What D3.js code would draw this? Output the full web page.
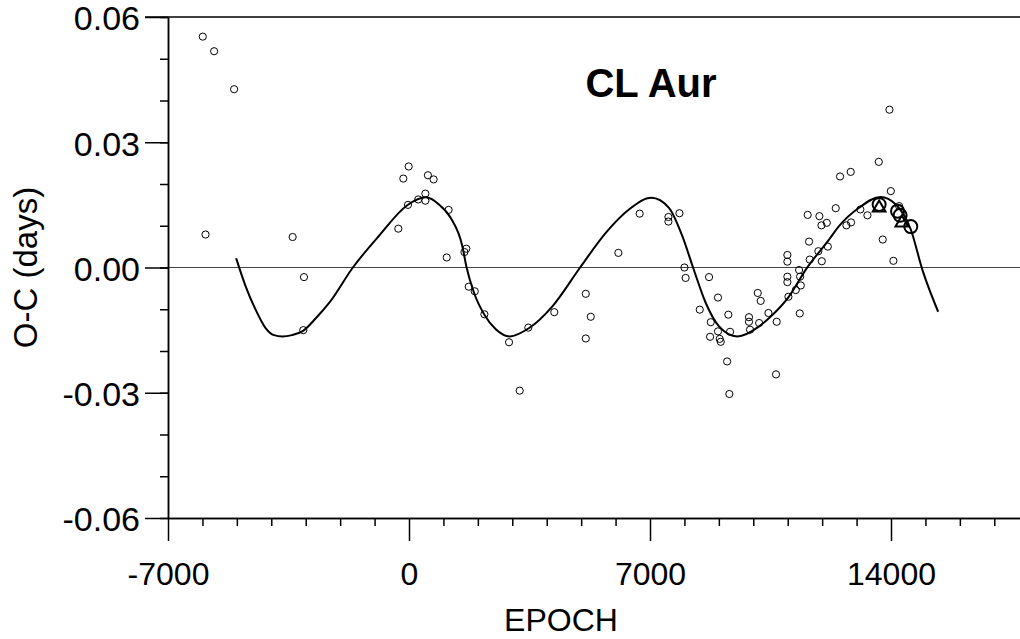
<!DOCTYPE html>
<html>
<head>
<meta charset="utf-8">
<script src="https://cdn.jsdelivr.net/npm/d3@7"></script>
<style>
body { margin: 0; background: #fff; }
text { font-family: "Liberation Sans", Arial, sans-serif; }
</style>
</head>
<body>
<svg></svg>
<script>
const SVG_WIDTH = 1020, SVG_HEIGHT = 639;

// O-C residuals (epoch, days)
const obsEpoch = [-5990,-5660,-5080,-5910,-3380,-3050,-3070,-310,-165,-10,-30,270,475,475,550,715,1095,1150,1610,1665,1735,1910,2190,2905,3215,3465,4220,5135,5280,5135,6080,6700,7535,7535,7855,8000,8035,8715,8445,8975,8765,8745,8975,9025,9055,9275,9325,9240,9305,10130,10215,9875,9875,9905,10170,10440,10680,10660,10990,10990,10990,10990,11020,11235,11330,11360,11380,11350,11580,11620,11640,11920,11980,11890,11990,12135,12165,12395,12520,12830,12705,12840,13110,13315,13645,13955,13995,13760,14070,14235];
const obsOC = [0.0553,0.0518,0.0427,0.0079,0.0073,-0.0023,-0.0150,0.0093,0.0213,0.0242,0.0150,0.0163,0.0177,0.0160,0.0221,0.0211,0.0024,0.0138,0.0037,0.0045,-0.0046,-0.0057,-0.0112,-0.0179,-0.0295,-0.0144,-0.0107,-0.0063,-0.0118,-0.0170,0.0035,0.0129,0.0121,0.0110,0.0130,0.0000,-0.0025,-0.0023,-0.0101,-0.0072,-0.0131,-0.0166,-0.0153,-0.0171,-0.0178,-0.0113,-0.0154,-0.0225,-0.0303,-0.0061,-0.0080,-0.0119,-0.0130,-0.0149,-0.0133,-0.0109,-0.0130,-0.0256,0.0030,0.0014,-0.0022,-0.0035,-0.0070,-0.0054,-0.0006,-0.0022,-0.0043,-0.0110,0.0126,0.0062,0.0019,0.0123,0.0101,0.0039,0.0015,0.0107,0.0050,0.0142,0.0218,0.0229,0.0101,0.0108,0.0139,0.0125,0.0253,0.0378,0.0183,0.0067,0.0016,0.0147];

// photoelectric minima (large circles) and triangles
const peEpoch = [13655, 14190, 14265, 14575];
const peOC = [0.0151, 0.0135, 0.0125, 0.0098];
const triEpoch = [13655, 14315];
const triOC = [0.0143, 0.0107];

// fitted curve
const fitEpoch = [-5020,-4745,-4455,-4165,-3920,-3680,-3400,-3100,-2700,-2320,-1630,-870,-50,485,870,1210,1550,1665,1890,2190,2520,2925,3490,4165,4970,5715,6390,7040,7550,7940,8250,8620,9005,9535,10170,10460,11040,11525,12200,12490,13070,13700,14140,14575,14910,15370];
const fitOC = [0.0022,-0.0045,-0.0101,-0.0145,-0.0162,-0.0165,-0.0162,-0.0153,-0.0121,-0.0085,0.0000,0.0076,0.0149,0.0168,0.0151,0.0119,0.0051,0.0003,-0.0061,-0.0113,-0.0148,-0.0165,-0.0145,-0.0093,0.0000,0.0083,0.0139,0.0167,0.0143,0.0075,0.0000,-0.0085,-0.0141,-0.0165,-0.0141,-0.0121,-0.0069,-0.0005,0.0067,0.0099,0.0143,0.0169,0.0151,0.0091,-0.0005,-0.0106];

const xMajor = [-7000, 0, 7000, 14000];
const yMajor = [0.06, 0.03, 0.00, -0.03, -0.06];

var x = d3.scaleLinear().domain([-7000, 18000]).range([168, 168 + 25000 * 241 / 7000]);
var y = d3.scaleLinear().domain([-0.06, 0.06]).range([518, 17]);

var svg = d3.select("svg").attr("width", SVG_WIDTH).attr("height", SVG_HEIGHT);

// zero line
svg.append("line")
    .attr("x1", x(-7000)).attr("x2", SVG_WIDTH)
    .attr("y1", y(0)).attr("y2", y(0))
    .attr("stroke", "#444").attr("stroke-width", 1);

// top frame
svg.append("line")
    .attr("x1", 145).attr("x2", SVG_WIDTH)
    .attr("y1", y(0.06)).attr("y2", y(0.06))
    .attr("stroke", "#000").attr("stroke-width", 1.5);

var xMinor = d3.range(-7000, 18001, 1000).filter(function(d) { return xMajor.indexOf(d) < 0 });
var yMinor = d3.range(-6, 7).map(function(d) { return d / 100 });

function styleAxis(g, size) {
    g.select(".domain").attr("stroke", "#000").attr("stroke-width", 1.5);
    g.selectAll(".tick line").attr("stroke", "#000").attr("stroke-width", 1.5);
    g.selectAll("text").attr("font-size", size || 32).attr("fill", "#000")
        .attr("font-family", "'Liberation Sans', Arial, sans-serif");
}

svg.append("g").attr("transform", "translate(0," + y(-0.06) + ")")
    .call(d3.axisBottom(x).tickValues(xMinor).tickSize(8).tickFormat("").tickSizeOuter(0))
    .call(styleAxis);
svg.append("g").attr("transform", "translate(0," + y(-0.06) + ")")
    .call(d3.axisBottom(x).tickValues(xMajor).tickSize(23).tickPadding(21).tickSizeOuter(0)
        .tickFormat(function(d) { return String(d) }))
    .call(styleAxis, 32);

svg.append("g").attr("transform", "translate(" + x(-7000) + ",0)")
    .call(d3.axisLeft(y).tickValues(yMinor).tickSize(8).tickFormat("").tickSizeOuter(0))
    .call(styleAxis);
svg.append("g").attr("transform", "translate(" + x(-7000) + ",0)")
    .call(d3.axisLeft(y).tickValues(yMajor).tickSize(23).tickPadding(5).tickSizeOuter(0)
        .tickFormat(function(d) { return d.toFixed(2) }))
    .call(styleAxis, 34)
    .selectAll("text").attr("dy", "0.38em");

// axis titles
svg.append("text")
    .attr("x", 561).attr("y", 631)
    .attr("text-anchor", "middle").attr("font-size", 32)
    .text("EPOCH");
svg.append("text")
    .attr("transform", "translate(37," + y(0) + ") rotate(-90)")
    .attr("text-anchor", "middle").attr("font-size", 33)
    .text("O-C (days)");
svg.append("text")
    .attr("x", 651).attr("y", 97)
    .attr("text-anchor", "middle").attr("font-size", 40).attr("font-weight", "bold")
    .text("CL Aur");

// fit
var fit = d3.range(fitEpoch.length).map(function(i) { return [fitEpoch[i], fitOC[i]] });
svg.append("path")
    .datum(fit)
    .attr("fill", "none").attr("stroke", "#000").attr("stroke-width", 2)
    .attr("d", d3.line().x(function(d) { return x(d[0]) }).y(function(d) { return y(d[1]) })
        .curve(d3.curveMonotoneX));

// points
var obs = d3.range(obsEpoch.length).map(function(i) { return [obsEpoch[i], obsOC[i]] });
svg.append("g").selectAll("circle").data(obs).enter().append("circle")
    .attr("cx", function(d) { return x(d[0]) })
    .attr("cy", function(d) { return y(d[1]) })
    .attr("r", 3.6)
    .attr("fill", "none").attr("stroke", "#000").attr("stroke-width", 1);

var pe = d3.range(peEpoch.length).map(function(i) { return [peEpoch[i], peOC[i]] });
svg.append("g").selectAll("circle").data(pe).enter().append("circle")
    .attr("cx", function(d) { return x(d[0]) })
    .attr("cy", function(d) { return y(d[1]) })
    .attr("r", 6.5)
    .attr("fill", "none").attr("stroke", "#000").attr("stroke-width", 2);

var tri = d3.range(triEpoch.length).map(function(i) { return [triEpoch[i], triOC[i]] });
svg.append("g").selectAll("path").data(tri).enter().append("path")
    .attr("transform", function(d) { return "translate(" + x(d[0]) + "," + y(d[1]) + ")" })
    .attr("d", d3.symbol().type(d3.symbolTriangle).size(70))
    .attr("fill", "none").attr("stroke", "#000").attr("stroke-width", 2);
</script>
</body>
</html>
